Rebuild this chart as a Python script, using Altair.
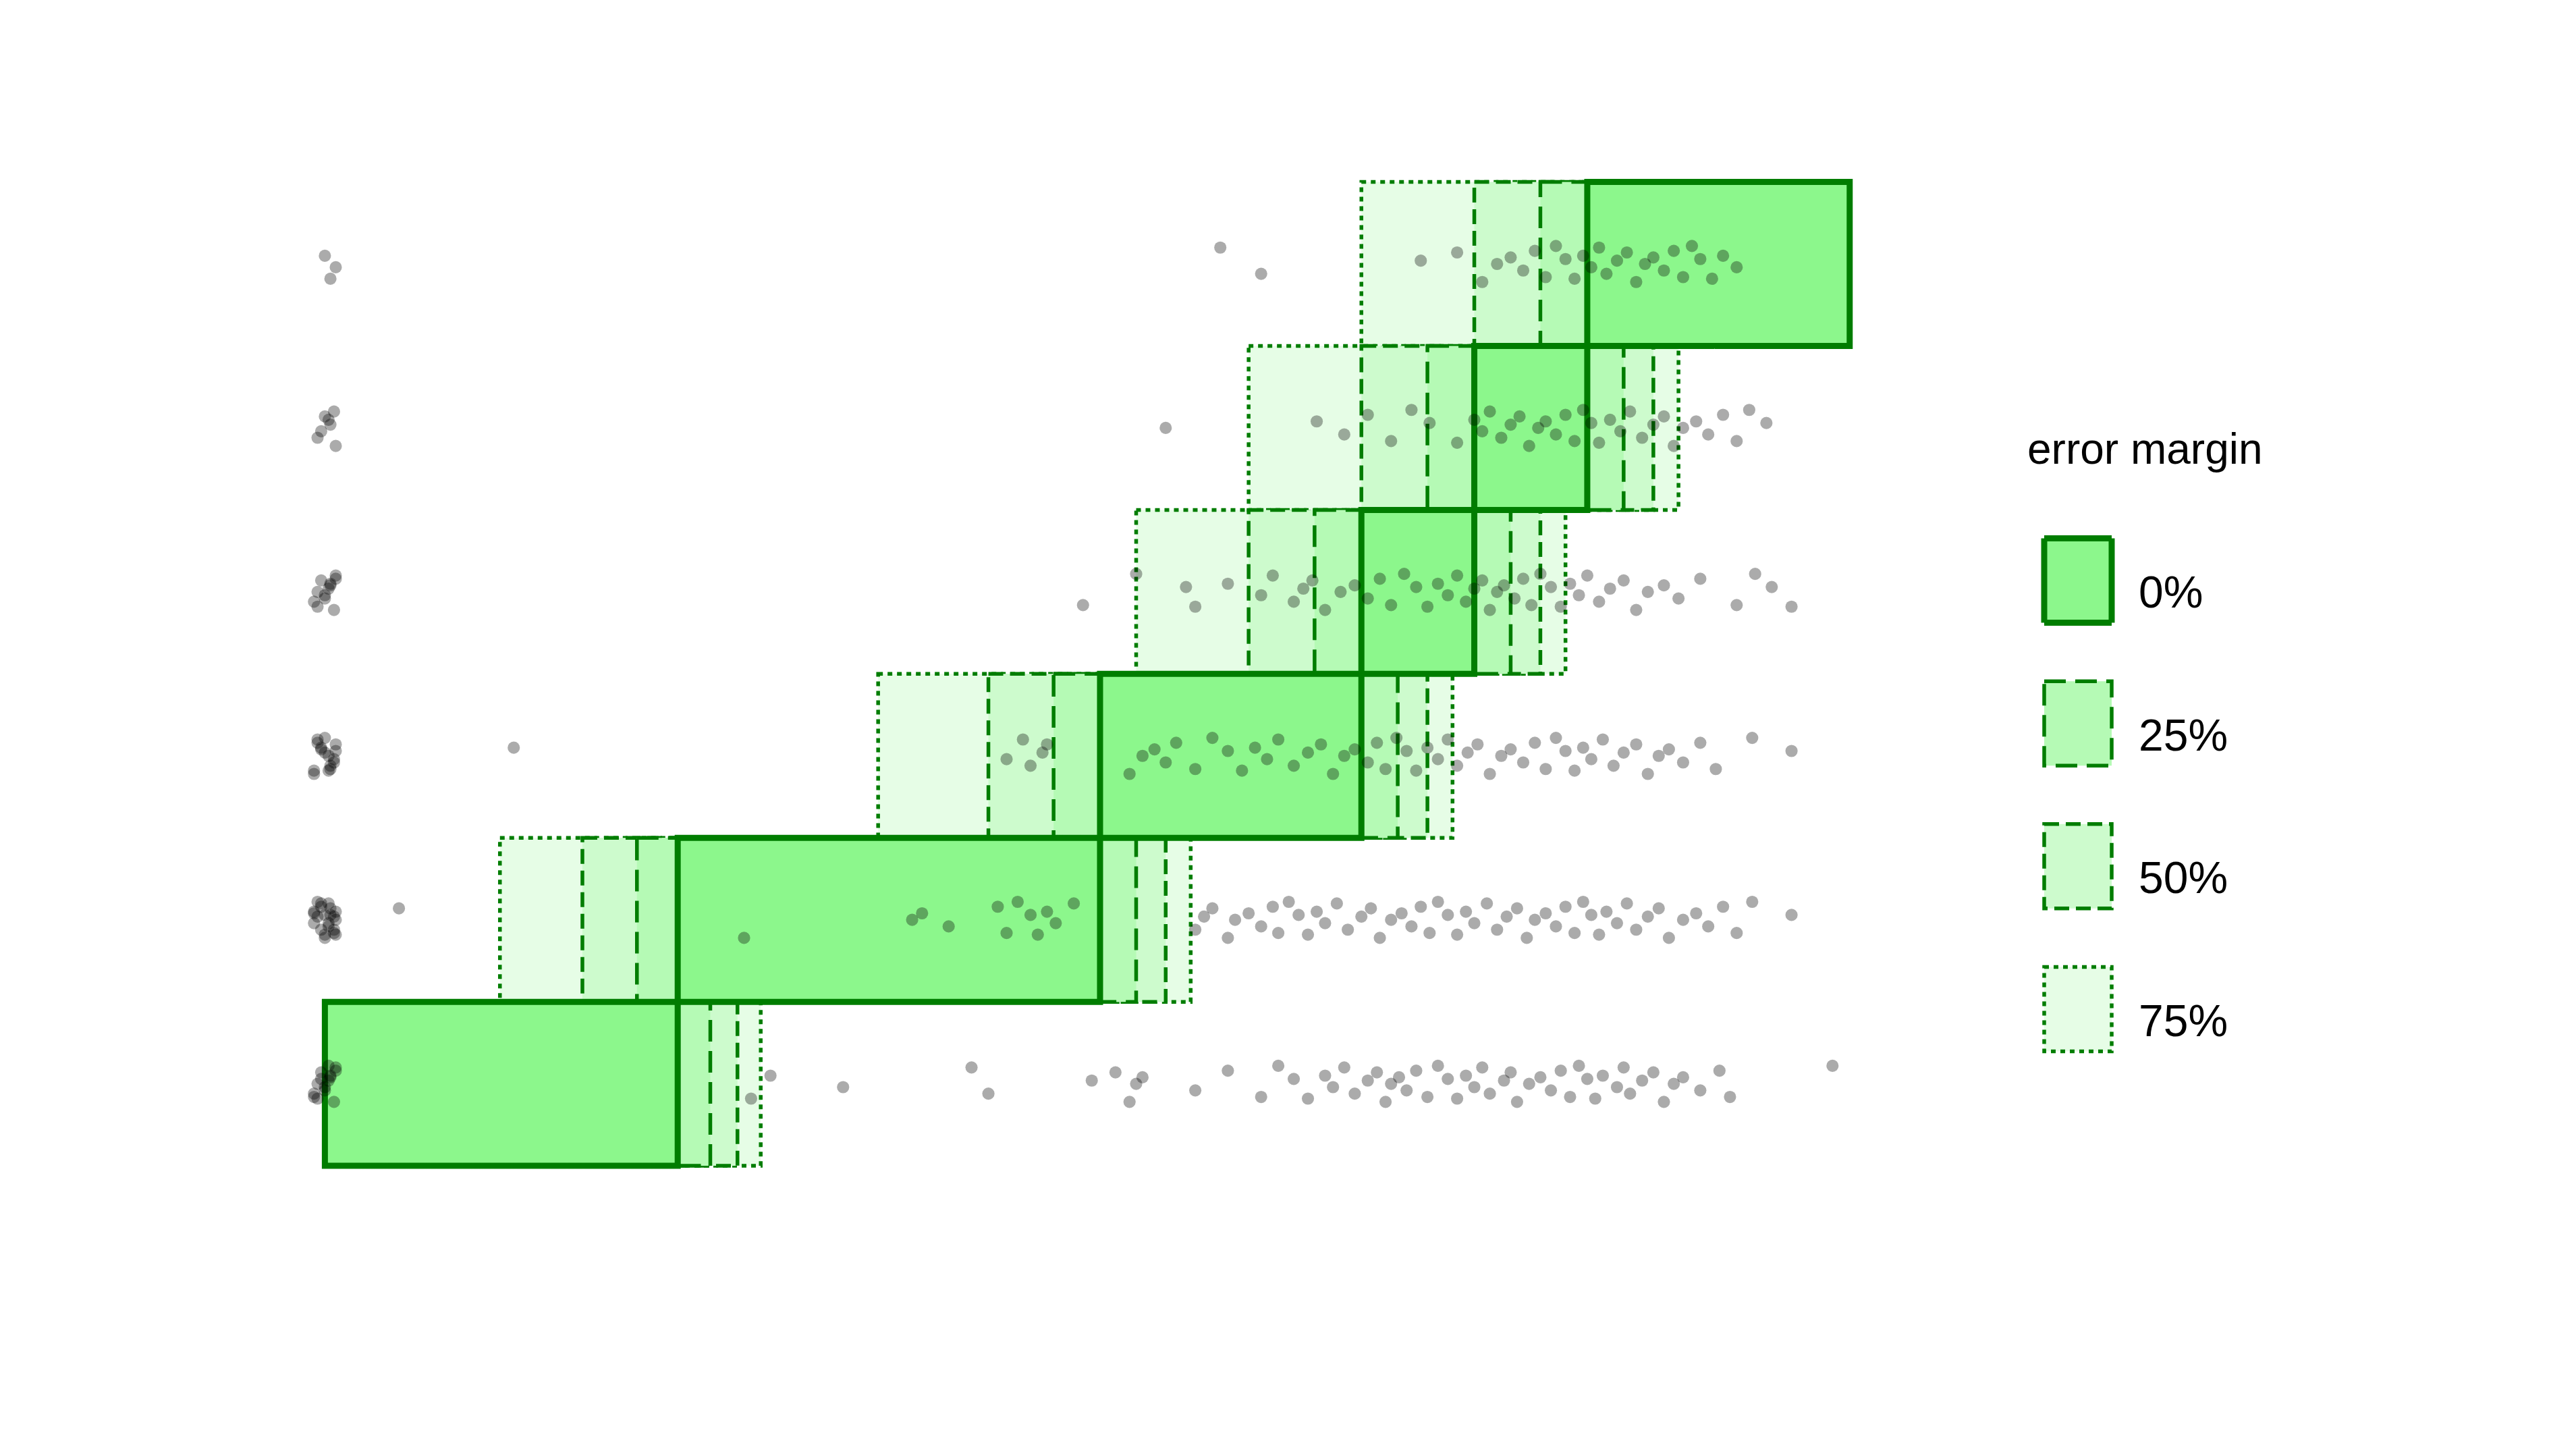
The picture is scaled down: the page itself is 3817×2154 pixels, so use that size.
import pandas as pd
import altair as alt

LEVELS = ["Zero", "1-10 cm", "10-50 cm", "50-100 cm", "1-2 meter", "whole floor"]

# box edges (cm) per level: 0% box, then left/right edges for 25/50/75% margins
BOX_LO = [0.0, 0.67, 10, 50, 100, 200]
BOX_HI = [0.67, 10, 50, 100, 200, 1000]
MARGINS = ["0%", "25%", "50%", "75%"]
LO_FACTOR = [1.0, 0.75, 0.5, 0.25]
HI_FACTOR = [1.0, 1.25, 1.5, 1.75]

FILLS = ["#8cf78c", "#b5fab5", "#cdfbcd", "#e6fde6"]
DASHES = [[1, 0], [32, 14], [22, 10], [7, 7]]
WIDTHS = [9, 5.5, 5.5, 5.5]
STROKE = "#007d00"

PTS = {
    "Zero": [0] * 15 + [1.1, 1.25, 2.0, 4.5, 5.0, 9.5, 11, 12, 12.5, 13, 18, 22, 27, 30, 33, 36,
        40, 42, 45, 48, 52, 55, 58, 60, 63, 66, 70, 75, 80, 85, 90, 95, 100, 105, 110, 120,
        125, 130, 140, 150, 160, 170, 180, 190, 200, 210, 220, 240, 250, 260, 280, 300, 320,
        340, 360, 400, 450, 480, 900],
    "1-10 cm": [0] * 22 + [0.05, 1.05, 3.1, 3.3, 3.9, 5.3, 5.6, 6.0, 6.5, 6.8, 7.2, 7.6, 8.5,
        18, 19, 20, 22, 23, 25, 27, 29, 30, 32, 34, 36, 38, 40, 43, 46, 50, 53, 56, 60, 64,
        68, 72, 76, 80, 85, 90, 95, 100, 108, 115, 122, 130, 138, 145, 155, 165, 175, 185,
        195, 205, 215, 225, 240, 255, 270, 290, 310, 330, 360, 390, 420, 460, 500, 550, 700],
    "10-50 cm": [0] * 16 + [0.19, 5.6, 6.2, 6.5, 7.0, 7.2, 12, 13, 14, 15, 16, 18, 20, 22, 24,
        26, 28, 30, 33, 36, 39, 42, 45, 48, 52, 55, 58, 62, 66, 70, 75, 80, 85, 90, 96, 102,
        110, 118, 125, 135, 145, 155, 165, 175, 185, 195, 205, 220, 235, 250, 270, 290, 310,
        330, 360, 400, 440, 550, 700],
    "50-100 cm": [0] * 12 + [9, 12.5, 17, 18, 22, 27, 29, 33, 35, 37, 40, 44, 48, 52, 56, 60,
        65, 70, 75, 80, 85, 90, 95, 100, 105, 110, 115, 120, 128, 135, 142, 150, 160, 170,
        180, 190, 200, 215, 230, 250, 270, 290, 320, 350, 400, 500, 560, 620, 700],
    "1-2 meter": [0] * 7 + [15, 38, 45, 52, 60, 68, 76, 90, 100, 105, 110, 118, 125, 132,
        140, 148, 155, 165, 175, 185, 195, 205, 215, 230, 245, 260, 280, 300, 320, 340, 360,
        390, 420, 460, 500, 540, 600],
    "whole floor": [0] * 3 + [21, 27, 72, 90, 105, 115, 125, 135, 145, 155, 165, 175, 185,
        195, 205, 215, 225, 240, 255, 270, 285, 300, 320, 340, 360, 380, 400, 430, 460, 500],
}
JITTER = [-0.09, 0.05, -0.02, 0.1, -0.06, 0.02, 0.07, -0.11, 0.0, 0.04, -0.04, 0.08, -0.08, 0.11, 0.03]
XJIT = [-0.004, 0.003, 0.0, 0.006, -0.006, 0.002, -0.002, 0.005]

TICK_VALS = [0, 0.22, 1, 3.3, 10, 23.6, 50, 75, 100, 152, 200, 333, 500, 767, 1000]
TICK_LABELS = {0: "0cm", 1: "1cm", 10: "10cm", 50: "50cm", 100: "1m", 200: "2m", 500: "5m", 1000: "10m"}

rows = []
for i, lev in enumerate(LEVELS):
    for m in range(4):
        lo = BOX_LO[i] * LO_FACTOR[m]
        hi = BOX_HI[i] if lev == "whole floor" else BOX_HI[i] * HI_FACTOR[m]
        rows.append({"level": lev, "margin": MARGINS[m], "x": lo, "x2": hi, "y": i + 0.5, "y2": i + 1.5})
boxes = pd.DataFrame(rows)

prow = []
k = 0
for i, lev in enumerate(LEVELS):
    for v in PTS[lev]:
        xv = v + XJIT[k % len(XJIT)] if v == 0 else v
        prow.append({"x": xv, "y": i + 1 + JITTER[k % len(JITTER)]})
        k += 1
points = pd.DataFrame(prow)

label_expr = " : ".join(f"datum.value == {v} ? '{t}'" for v, t in TICK_LABELS.items()) + " : ''"
xscale = alt.Scale(type="symlog", constant=0.087, domain=[-0.061, 1700], nice=False)
yscale = alt.Scale(domain=[0.455, 6.63], nice=False, zero=False)

xaxis = alt.Axis(values=TICK_VALS, labelExpr=label_expr, title="Objective maximum water level",
                 grid=True, ticks=False, domain=False, labelFontSize=50, labelColor="#4d4d4d",
                 titleFontSize=84, titleFontWeight="normal", titlePadding=50, labelPadding=12,
                 gridColor="#ebebeb", gridWidth=2.5, labelFlush=False)
yaxis = alt.Axis(values=[1, 2, 3, 4, 5, 6],
                 labelExpr="['Zero','1-10 cm','10-50 cm','50-100 cm','1-2 meter','whole floor'][datum.value-1]",
                 title="Expected water level", grid=True, ticks=False, domain=False, labelLimit=0,
                 labelFontSize=50, labelColor="#4d4d4d", titleFontSize=84,
                 titleFontWeight="normal", titlePadding=40, labelPadding=30,
                 gridColor="#ebebeb", gridWidth=3.5)

layers = []
for m in range(3, -1, -1):
    layers.append(
        alt.Chart(boxes[boxes["margin"] == MARGINS[m]])
        .mark_rect(fill=FILLS[m], stroke=STROKE, strokeWidth=WIDTHS[m], strokeDash=DASHES[m])
        .encode(x=alt.X("x:Q", scale=xscale, axis=xaxis if m == 3 else None), x2="x2:Q",
                y=alt.Y("y:Q", scale=yscale, axis=yaxis if m == 3 else None), y2="y2:Q")
    )

dots = alt.Chart(points).mark_circle(size=330, opacity=0.33, color="black").encode(
    x=alt.X("x:Q", scale=xscale, axis=None), y=alt.Y("y:Q", scale=yscale, axis=None))

main = alt.layer(*layers, dots).properties(width=2516, height=1500)

# manual legend
leg_df = pd.DataFrame({"margin": MARGINS})
leg_y = alt.Y("margin:N", scale=alt.Scale(type="point", domain=MARGINS, range=[622, 1257], padding=0), axis=None)
leg_layers = []
for m in range(4):
    leg_layers.append(
        alt.Chart(leg_df[leg_df["margin"] == MARGINS[m]])
        .mark_rect(width=100, height=125, fill=FILLS[m], stroke=STROKE,
                   strokeWidth=WIDTHS[m], strokeDash=DASHES[m])
        .encode(x=alt.value(210), y=leg_y)
    )
leg_text = alt.Chart(leg_df).mark_text(align="left", baseline="middle", fontSize=66, dy=20).encode(
    x=alt.value(300), y=leg_y, text="margin:N")
leg_title = alt.Chart(pd.DataFrame({"t": ["error margin"]})).mark_text(
    align="left", baseline="middle", fontSize=64).encode(x=alt.value(135), y=alt.value(430), text="t:N")
legend = alt.layer(*leg_layers, leg_text, leg_title).properties(width=450, height=1500)

chart = alt.hconcat(main, legend, spacing=0).configure(
    font="Liberation Sans", padding={"left": 345, "top": 230, "right": 20, "bottom": 120}
).configure_view(stroke=None)

chart.save("out.html", embed_options={"renderer": "svg", "actions": False})
